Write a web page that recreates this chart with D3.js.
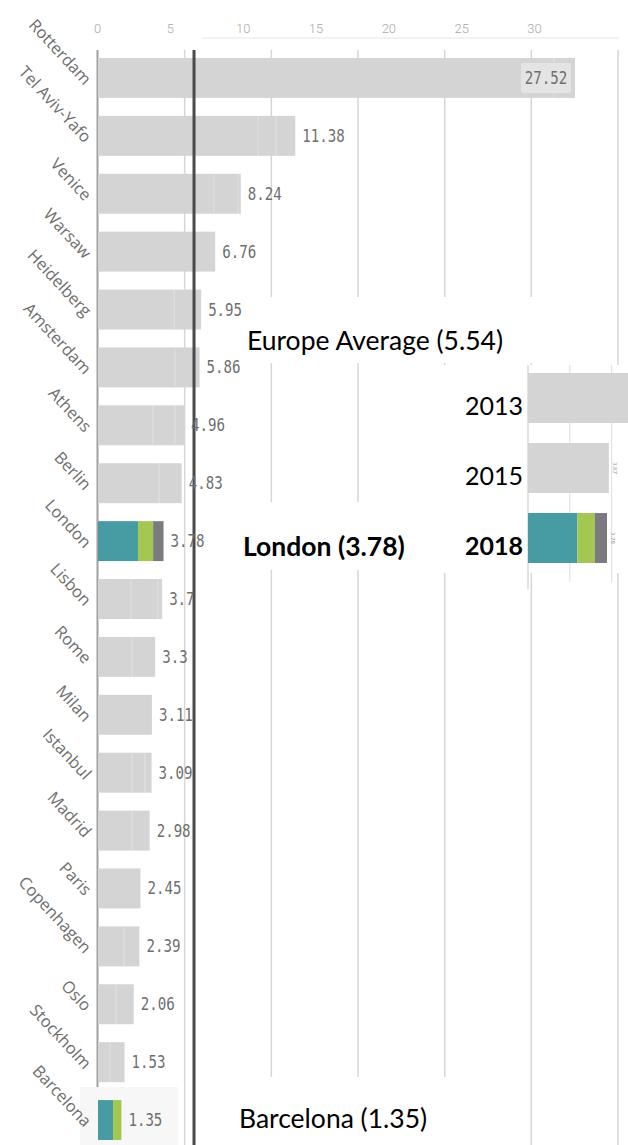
<!DOCTYPE html>
<html><head><meta charset="utf-8">
<script src="https://cdn.jsdelivr.net/npm/d3@7"></script>
<style>body{margin:0;background:#fff;} svg{display:block}</style>
</head><body>
<svg id="chart" width="628" height="1145"></svg>
<script>
// ---------- data ----------
const cities = ["Rotterdam","Tel Aviv-Yafo","Venice","Warsaw","Heidelberg","Amsterdam","Athens","Berlin","London","Lisbon","Rome","Milan","Istanbul","Madrid","Paris","Copenhagen","Oslo","Stockholm","Barcelona"];
const totals = [27.52,11.38,8.24,6.76,5.95,5.86,4.96,4.83,3.78,3.7,3.3,3.11,3.09,2.98,2.45,2.39,2.06,1.53,1.35];
const seg1 = [26.30,9.23,6.69,6.76,4.39,4.44,3.17,3.52,2.31,1.90,1.96,3.11,1.96,1.96,2.45,1.50,1.04,0.69,0.87];
const seg2 = [1.22,1.04,1.39,0,1.56,1.42,1.27,1.31,0.87,1.56,1.34,0,0.75,1.02,0,0.89,1.02,0.84,0.48];
const seg3 = [0,1.11,0.16,0,0,0,0.52,0,0.60,0.24,0,0,0.38,0,0,0,0,0,0];
const highlighted = ["London","Barcelona"];
const tickValues = [0,5,10,15,20,25,30];
const europeAverage = 5.54;
const years = ["2013","2015","2018"];
const yearTotals = [5.2,3.87,3.78];
const yearLabels = ["","3.87","3.78"];
const year2018Segs = [2.36,0.84,0.58];
const insetTicks = [0,2,4];

const segColors = ["#479ba3","#a3c751","#7b7b7f"];
const gray = "#d4d4d4";

const svg = d3.select("#chart");
const x = d3.scaleLinear().domain([0,30]).range([98,618]);
const xLabel = d3.scaleLinear().domain([0,30]).range([97,534]);
const y = d3.scaleBand().domain(cities).range([49,1149]).paddingInner(0.31).paddingOuter(0.155);

// top axis labels
const axisG = svg.append("g").attr("transform","translate(0,33)")
  .call(d3.axisTop(xLabel).tickValues(tickValues).tickSize(0).tickPadding(0));
axisG.select(".domain").remove();
axisG.selectAll("text").attr("font-family","Roboto").attr("font-weight",300)
  .attr("font-size",13).attr("fill","#a8a8a8");

// top thin line
svg.append("line").attr("x1",x(6)).attr("x2",x(30)+1).attr("y1",38).attr("y2",38)
  .attr("stroke","#e6e6e6").attr("stroke-width",1);

// gridlines
svg.append("g").selectAll("line").data(tickValues.filter(d=>d>0)).join("line")
  .attr("x1",d=>x(d)).attr("x2",d=>x(d)).attr("y1",50).attr("y2",1145)
  .attr("stroke","#d6d6d6").attr("stroke-width",1.5);
// baseline
svg.append("line").attr("x1",x(0)-0.5).attr("x2",x(0)-0.5).attr("y1",50).attr("y2",1145)
  .attr("stroke","#a0a0a0").attr("stroke-width",2);

// white annotation boxes
const boxes = [[230,297,380,66],[230,502,210,68],[238,1077,262,68]];
svg.append("g").selectAll("rect").data(boxes).join("rect")
  .attr("x",d=>d[0]).attr("y",d=>d[1]).attr("width",d=>d[2]).attr("height",d=>d[3]).attr("fill","#fff");
// faint background behind Barcelona
svg.append("rect").attr("x",80).attr("y",y("Barcelona")-13).attr("width",98).attr("height",70).attr("fill","#f7f7f7");

// bars
const rows = cities.map((c,i)=>({city:c,total:totals[i],segs:[seg1[i],seg2[i],seg3[i]]}));
const barG = svg.append("g");
rows.forEach(r=>{
  let acc = 0;
  const hl = highlighted.includes(r.city);
  r.segs.forEach((v,k)=>{
    if(v<=0) return;
    barG.append("rect")
      .attr("x",x(acc)).attr("y",y(r.city))
      .attr("width",x(acc+v)-x(acc)).attr("height",y.bandwidth())
      .attr("fill",hl?segColors[k]:gray);
    if(acc>0 && !hl){
      barG.append("line").attr("x1",x(acc)).attr("x2",x(acc))
        .attr("y1",y(r.city)).attr("y2",y(r.city)+y.bandwidth())
        .attr("stroke","#e2e2e2").attr("stroke-width",1);
    }
    acc += v;
  });
});

// average line
svg.append("line").attr("x1",x(europeAverage)).attr("x2",x(europeAverage))
  .attr("y1",50).attr("y2",1145).attr("stroke","#4a4a4a").attr("stroke-width",3);

// value labels
const valG = svg.append("g");
rows.forEach((r,i)=>{
  const cy = y(r.city)+y.bandwidth()/2;
  if(i===0){
    valG.append("rect").attr("x",x(r.total)-54).attr("y",cy-15).attr("width",50).attr("height",30)
      .attr("rx",2).attr("fill","#e4e4e4");
    valG.append("text").attr("transform",`translate(${x(r.total)-29},${cy+6}) scale(0.83,1)`)
      .attr("text-anchor","middle").attr("font-family","DejaVu Sans Mono").attr("font-size",17)
      .attr("fill","#6e6e6e").text(r.total.toFixed(2));
  } else {
    valG.append("text").attr("transform",`translate(${x(r.total)+7},${cy+6}) scale(0.83,1)`)
      .attr("font-family","DejaVu Sans Mono").attr("font-size",17)
      .attr("fill","#6e6e6e").text(String(r.total));
  }
});

// city labels
svg.append("g").selectAll("text").data(cities).join("text")
  .attr("transform",d=>`translate(84,${y(d)+y.bandwidth()/2+8}) rotate(47)`)
  .attr("text-anchor","end").attr("font-family","Open Sans").attr("font-size",16.5)
  .attr("fill","#6e6e6e").text(d=>d);

// annotations
const ann = svg.append("g").attr("font-family","Lato").attr("fill","#000");
ann.append("text").attr("x",247).attr("y",350).attr("font-size",26.5).text("Europe Average (5.54)");
ann.append("text").attr("x",243).attr("y",556).attr("font-size",26.5).attr("font-weight","bold").text("London (3.78)");
ann.append("text").attr("x",239).attr("y",1128).attr("font-size",26.5).text("Barcelona (1.35)");

// inset
const xi = d3.scaleLinear().domain([0,4]).range([528,611.6]);
const yi = d3.scaleBand().domain(years).range([363,573]).paddingInner(0.286).paddingOuter(0.143);
svg.append("rect").attr("x",440).attr("y",365).attr("width",188).attr("height",208).attr("fill","#fff");
svg.append("g").selectAll("line").data(insetTicks).join("line")
  .attr("x1",d=>xi(d)).attr("x2",d=>xi(d)).attr("y1",365).attr("y2",d=>d===0?589:582)
  .attr("stroke",d=>d===0?"#cfcfcf":"#e2e2e2").attr("stroke-width",1.2);
years.forEach((yr,i)=>{
  if(yr==="2018"){
    let acc=0;
    year2018Segs.forEach((v,k)=>{
      svg.append("rect").attr("x",xi(acc)).attr("y",yi(yr)).attr("width",xi(acc+v)-xi(acc))
        .attr("height",yi.bandwidth()).attr("fill",segColors[k]);
      acc+=v;
    });
  } else {
    svg.append("rect").attr("x",xi(0)).attr("y",yi(yr)).attr("width",xi(yearTotals[i])-xi(0))
      .attr("height",yi.bandwidth()).attr("fill",gray);
  }
  if(yearLabels[i]){
    svg.append("text").attr("transform",`translate(${xi(yearTotals[i])+4},${yi(yr)+yi.bandwidth()/2}) rotate(90)`)
      .attr("text-anchor","middle").attr("font-family","Open Sans").attr("font-size",6)
      .attr("fill","#999").text(yearLabels[i]);
  }
  svg.append("text").attr("x",523).attr("y",yi(yr)+yi.bandwidth()/2+17)
    .attr("text-anchor","end").attr("font-family","Lato").attr("font-size",25)
    .attr("font-weight",yr==="2018"?"bold":"normal").attr("fill","#000").text(yr);
});
</script>
</body></html>
